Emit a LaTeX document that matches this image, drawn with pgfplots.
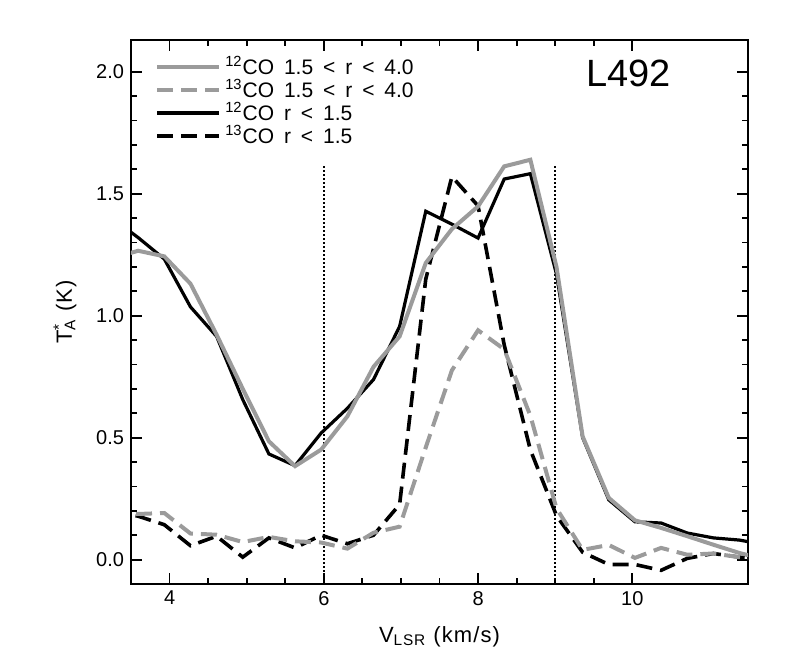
\documentclass[border=0pt]{standalone}
\usepackage{fontspec}
\setmainfont{Liberation Sans}
\newfontfamily\legfont[WordSpace=1.7]{Liberation Sans}
\usepackage{pgfplots}
\pgfplotsset{compat=1.18}
\definecolor{idlgray}{RGB}{155,155,155}

% spectra, channel width ~0.339 km/s
\pgfplotstableread{
v      co12in  co12out  co13in  co13out
3.254  1.400   1.235    0.200   0.185
3.593  1.320   1.266    0.178   0.187
3.932  1.232   1.243    0.143   0.191
4.271  1.036   1.131    0.057   0.107
4.610  0.915   0.922    0.096   0.102
4.949  0.656   0.700    0.010   0.072
5.288  0.433   0.485    0.089   0.093
5.627  0.385   0.383    0.048   0.075
5.966  0.519   0.451    0.100   0.070
6.305  0.620   0.587    0.065   0.045
6.644  0.738   0.790    0.100   0.110
6.983  0.956   0.915    0.226   0.135
7.322  1.428   1.216    1.150   0.460
7.661  1.375   1.355    1.570   0.776
8.000  1.318   1.448    1.450   0.940
8.339  1.560   1.612    0.880   0.862
8.678  1.582   1.639    0.450   0.590
9.017  1.170   1.200    0.180   0.210
9.356  0.500   0.505    0.030   0.040
9.695  0.245   0.253   -0.020   0.060
10.034 0.155   0.161   -0.020   0.007
10.373 0.150   0.130   -0.044   0.048
10.712 0.109   0.096    0.005   0.020
11.051 0.089   0.061    0.025   0.025
11.390 0.080   0.027    0.010   0.010
11.729 0.060   0.000    0.000   0.000
}\spectra

\begin{document}
\begin{tikzpicture}
\begin{axis}[
  scale only axis, width=308.5pt, height=272pt,
  xmin=3.5, xmax=11.5, ymin=-0.1, ymax=2.13,
  xtick={4,6,8,10}, minor x tick num=3,
  ytick={0,0.5,1,1.5,2}, minor y tick num=4,
  yticklabel style={/pgf/number format/.cd, fixed, fixed zerofill, precision=1},
  /pgf/number format/assume math mode=true,
  tick label style={font=\fontsize{10}{12}\selectfont},
  major tick length=5.5pt, minor tick length=3pt,
  every tick/.style={black, line width=0.9pt},
  axis line style={line width=1pt},
  xlabel={V\textsubscript{LSR} (km/s)},
  ylabel={T\rlap{\textsuperscript{*}}\textsubscript{A} (K)},
  label style={font=\fontsize{11}{13}\selectfont\addfontfeatures{LetterSpace=5}},
  xlabel style={at={(axis description cs:0.5,-0.097)}, anchor=center},
  ylabel style={at={(axis description cs:-0.107,0.5)}, anchor=center},
  legend style={draw=none, fill=none, at={(axis description cs:0.029,0.986)},
    anchor=north west, font=\legfont\fontsize{10.5}{12}\selectfont, row sep=-3pt},
  legend cell align=left,
  legend image code/.code={\draw[#1] (0pt,0pt) -- (31pt,0pt);},
]
\addplot[black, line width=1.3pt, dash pattern=on 1pt off 1pt, forget plot] coordinates {(6,-0.1) (6,1.62)};
\addplot[black, line width=1.3pt, dash pattern=on 1pt off 1pt, forget plot] coordinates {(9,-0.1) (9,1.62)};

\addplot[black, line width=1.8pt, dash pattern=on 8pt off 4pt, forget plot] table[x=v, y=co13in] {\spectra};
\addplot[idlgray, line width=2pt, dash pattern=on 8pt off 4pt, forget plot] table[x=v, y=co13out] {\spectra};
\addplot[black, line width=1.6pt, forget plot] table[x=v, y=co12in] {\spectra};
\addplot[idlgray, line width=2pt, forget plot] table[x=v, y=co12out] {\spectra};

\addlegendimage{idlgray, line width=2pt}
\addlegendentry{\textsuperscript{12}CO 1.5 < r < 4.0}
\addlegendimage{idlgray, line width=2pt, dash pattern=on 8pt off 4pt}
\addlegendentry{\textsuperscript{13}CO 1.5 < r < 4.0}
\addlegendimage{black, line width=1.6pt}
\addlegendentry{\textsuperscript{12}CO r < 1.5}
\addlegendimage{black, line width=1.8pt, dash pattern=on 8pt off 4pt}
\addlegendentry{\textsuperscript{13}CO r < 1.5}

\node[font=\fontsize{19}{21}\selectfont] at (axis cs:9.95,1.995) {L492};
\end{axis}
\pgfresetboundingbox
\path[use as bounding box] ([shift={(-65.5pt,-42pt)}]current axis.south west) rectangle ([shift={(19pt,20pt)}]current axis.north east);
\end{tikzpicture}
\end{document}
